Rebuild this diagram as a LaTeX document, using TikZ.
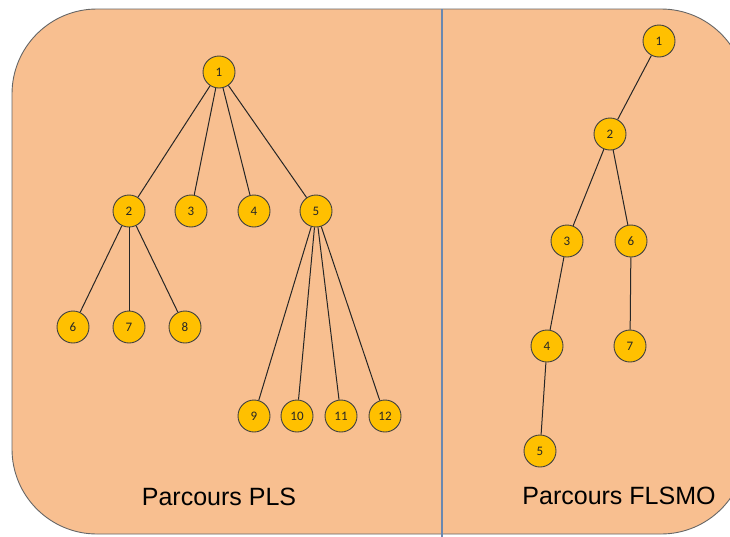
\documentclass[tikz,border=0pt]{standalone}
\usepackage{fontspec}
\setmainfont{Liberation Sans}
\newfontfamily\numfont{Carlito}
\begin{document}
\begin{tikzpicture}[x=1pt,y=-1pt,
  vert/.style={circle,draw=black!75,fill=nodegold,line width=0.9pt,minimum size=32pt,inner sep=0pt,font=\numfont\fontsize{13}{15}\selectfont,text=black!85},
  edge/.style={draw=black!85,line width=1pt},
  title/.style={font=\fontsize{25}{29}\selectfont,text=black}]
\definecolor{bgpeach}{HTML}{F8BF90}
\definecolor{nodegold}{HTML}{FFC000}
\definecolor{divider}{HTML}{6A88B0}
\useasboundingbox (0,0) rectangle (730,536);
\begin{scope}
\clip (0,0) rectangle (730,536);
\draw[fill=bgpeach,draw=black!60,line width=0.9pt,rounded corners=85pt] (12,9) rectangle (746,534);
\draw[divider,line width=1.8pt] (442,9) -- (442,540);
\end{scope}
% left tree
\node[vert] (a1) at (219,72) {1};
\node[vert] (a2) at (129,211) {2};
\node[vert] (a3) at (191,211) {3};
\node[vert] (a4) at (254,211) {4};
\node[vert] (a5) at (316,211) {5};
\node[vert] (a6) at (73,327) {6};
\node[vert] (a7) at (129,327) {7};
\node[vert] (a8) at (185,327) {8};
\node[vert] (a9) at (254,416) {9};
\node[vert] (a10) at (297,416) {10};
\node[vert] (a11) at (341,416) {11};
\node[vert] (a12) at (385,416) {12};
\foreach \c in {a2,a3,a4,a5} \draw[edge] (a1) -- (\c);
\foreach \c in {a6,a7,a8} \draw[edge] (a2) -- (\c);
\foreach \c in {a9,a10,a11,a12} \draw[edge] (a5) -- (\c);
% right tree
\node[vert] (b1) at (659,41) {1};
\node[vert] (b2) at (610,134) {2};
\node[vert] (b3) at (567,241) {3};
\node[vert] (b6) at (631,241) {6};
\node[vert] (b4) at (547,346) {4};
\node[vert] (b7) at (630,346) {7};
\node[vert] (b5) at (540,451) {5};
\draw[edge] (b1) -- (b2);
\draw[edge] (b2) -- (b3);
\draw[edge] (b2) -- (b6);
\draw[edge] (b3) -- (b4);
\draw[edge] (b6) -- (b7);
\draw[edge] (b4) -- (b5);
\node[title] (t1) at (219,497) {Parcours PLS};
\node[title] (t2) at (619,496) {Parcours FLSMO};
\end{tikzpicture}
\end{document}
